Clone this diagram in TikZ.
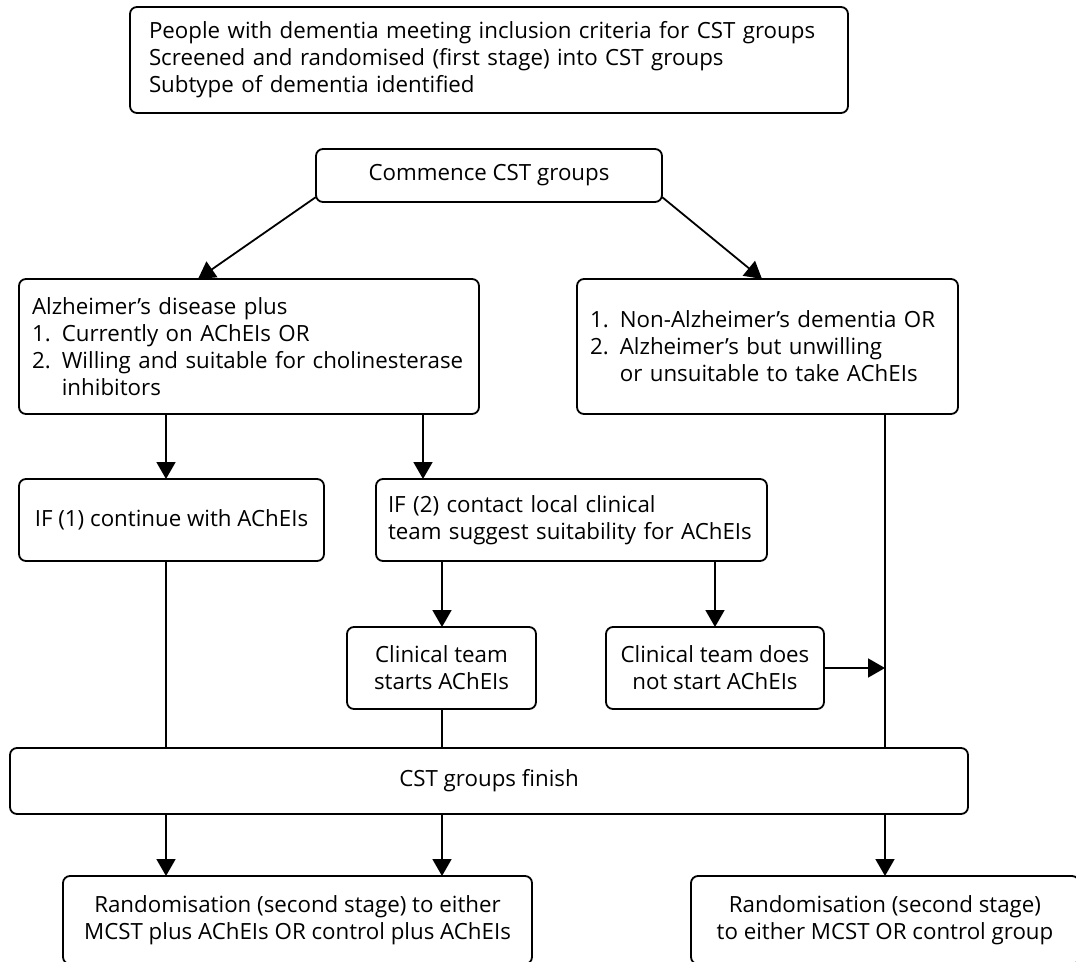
\documentclass[tikz,border=0pt]{standalone}
\usepackage{fontspec}
\setmainfont{Open Sans}
\usetikzlibrary{arrows.meta}

\begin{document}
\begin{tikzpicture}[x=1pt, y=1pt, line width=1.8pt,
    box/.style={draw, rounded corners=7pt, outer sep=0pt, inner sep=0pt, align=center,
                font=\fontsize{22.3}{27}\selectfont},
    leftbox/.style={box, align=left},
    arr/.style={-{Triangle[width=19pt,length=17pt]}}]

    % Рамка рисунка
    \useasboundingbox (0,0) rectangle (1076,-961);
    \clip (0,0) rectangle (1076,-961);

    % Вертикальные линии
    \coordinate (laneA) at (166,0);
    \coordinate (laneB) at (442,0);
    \coordinate (laneC) at (715,0);
    \coordinate (laneD) at (423,0);

    % Блоки
    \node[leftbox, minimum height=106pt, text width=680pt, inner xsep=19pt] (top) at (489,-60)
        {People with dementia meeting inclusion criteria for CST groups\\
         Screened and randomised (first stage) into CST groups\\
         Subtype of dementia identified};
    \node[box, minimum width=346pt, minimum height=53pt] (commence) at (489,-175.5)
        {Commence CST groups};
    \node[leftbox, minimum height=135pt, text width=434pt, inner xsep=13pt] (alz) at (249,-346.5)
        {Alzheimer’s disease plus\\
         1. Currently on AChEIs OR\\
         2. Willing and suitable for cholinesterase\\
         \phantom{2. }inhibitors};
    \node[leftbox, minimum height=135pt, text width=355pt, inner xsep=13pt] (nonalz) at (767.5,-346.5)
        {1. Non-Alzheimer’s dementia OR\\
         2. Alzheimer’s but unwilling\\
         \phantom{2. }or unsuitable to take AChEIs};
    \node[box, minimum width=305pt, minimum height=82pt] (ifone) at (171.5,-520)
        {IF (1) continue with AChEIs};
    \node[leftbox, minimum height=82pt, text width=367pt, inner xsep=12pt] (iftwo) at (571.5,-520)
        {IF (2) contact local clinical\\
         team suggest suitability for AChEIs};
    \node[box, minimum width=189pt, minimum height=82pt] (starts) at (441.5,-668)
        {Clinical team\\ starts AChEIs};
    \node[box, minimum width=218pt, minimum height=82pt] (notstart) at (715,-668)
        {Clinical team does\\ not start AChEIs};
    \node[box, minimum width=958pt, minimum height=66pt] (finish) at (489,-781)
        {CST groups finish};
    \node[box, minimum width=469pt, minimum height=88pt] (randone) at (297.5,-920)
        {Randomisation (second stage) to either\\
         MCST plus AChEIs OR control plus AChEIs};
    \node[box, minimum width=388pt, minimum height=88pt] (randtwo) at (885,-920)
        {Randomisation (second stage)\\
         to either MCST OR control group};

    % Стрелки
    \draw[arr] ([yshift=5pt]commence.south west) -- ([xshift=179pt]alz.north west);
    \draw[arr] ([yshift=5pt]commence.south east) -- ([xshift=185pt]nonalz.north west);
    \draw[arr] (alz.south -| laneA) -- (ifone.north -| laneA);
    \draw[arr] (alz.south -| laneD) -- (iftwo.north -| laneD);
    \draw[arr] (iftwo.south -| laneB) -- (starts.north -| laneB);
    \draw[arr] (iftwo.south -| laneC) -- (notstart.north -| laneC);
    \draw[arr] (notstart.east) -- (notstart.east -| randtwo.north);

    % Линии к финишу
    \draw (ifone.south -| laneA) -- (finish.north -| laneA);
    \draw (starts.south -| laneB) -- (finish.north -| laneB);
    \draw (nonalz.south -| randtwo.north) -- (finish.north -| randtwo.north);

    % Рандомизация
    \draw[arr] (finish.south -| laneA) -- (randone.north -| laneA);
    \draw[arr] (finish.south -| laneB) -- (randone.north -| laneB);
    \draw[arr] (finish.south -| randtwo.north) -- (randtwo.north);

\end{tikzpicture}
\end{document}
